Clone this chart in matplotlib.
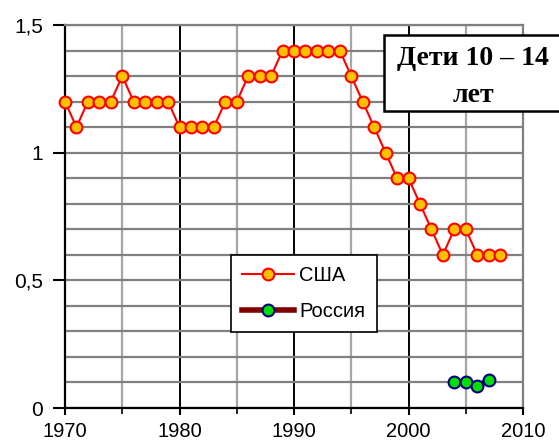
import matplotlib
matplotlib.use("Agg")
import matplotlib.pyplot as plt
from matplotlib.patches import Rectangle
from matplotlib.ticker import FuncFormatter, MultipleLocator

usa_years = list(range(1970, 2009))
usa_values = [1.2, 1.1, 1.2, 1.2, 1.2, 1.3, 1.2, 1.2, 1.2, 1.2,
              1.1, 1.1, 1.1, 1.1, 1.2, 1.2, 1.3, 1.3, 1.3, 1.4,
              1.4, 1.4, 1.4, 1.4, 1.4, 1.3, 1.2, 1.1, 1.0, 0.9,
              0.9, 0.8, 0.7, 0.6, 0.7, 0.7, 0.6, 0.6, 0.6]
rus_years = [2004, 2005, 2006, 2007]
rus_values = [0.1, 0.1, 0.085, 0.11]
series_labels = ["США", "Россия"]
title_lines = ["Дети 10 – 14", "лет"]
x_ticks = [1970, 1980, 1990, 2000, 2010]
y_ticks = [0, 0.5, 1, 1.5]

plt.rcParams['font.family'] = ['Liberation Sans', 'DejaVu Sans']

fig = plt.figure(figsize=(5.59, 4.43), dpi=100)
ax = fig.add_axes([65/559, 1-408/443, (523-65)/559, (408-25)/443])

ax.set_xlim(1970, 2010)
ax.set_ylim(0, 1.5)

# grid
ax.yaxis.set_minor_locator(MultipleLocator(0.1))
ax.xaxis.set_minor_locator(MultipleLocator(5))
ax.grid(which='minor', axis='y', color='#808080', lw=1.6, zorder=0)
ax.grid(which='major', axis='y', color='#808080', lw=1.6, zorder=0)
ax.grid(which='minor', axis='x', color='#a6a6a6', lw=1.6, zorder=0)
ax.grid(which='major', axis='x', color='black', lw=1.4, zorder=0)
ax.set_axisbelow(True)

ax.plot(usa_years, usa_values, color='red', lw=1.5, marker='o', ms=8.5,
        mfc='#FFC000', mec='red', mew=1.5, label=series_labels[0], zorder=3,
        clip_on=False)
ax.plot(rus_years, rus_values, color='#800000', lw=4, marker='o', ms=8.5,
        mfc='#00E000', mec='#000080', mew=1.5, label=series_labels[1], zorder=3,
        clip_on=False)

ax.set_xticks(x_ticks)
ax.set_yticks(y_ticks)
ax.yaxis.set_major_formatter(FuncFormatter(lambda v, p: ('%g' % v).replace('.', ',')))
ax.tick_params(axis='y', which='major', direction='out', length=9, width=1.5, pad=7, labelsize=15)
ax.tick_params(axis='y', which='minor', length=0)
ax.tick_params(axis='x', which='major', direction='out', length=5, width=1.5, pad=5, labelsize=14.5)
ax.tick_params(axis='x', which='minor', direction='out', length=4, width=1.2)

for s in ['left', 'bottom']:
    ax.spines[s].set_color('black')
    ax.spines[s].set_linewidth(1.6)
for s in ['top', 'right']:
    ax.spines[s].set_color('#808080')
    ax.spines[s].set_linewidth(1.6)

leg = ax.legend(loc='upper left', bbox_to_anchor=(231/559, 1-255/443),
                bbox_transform=fig.transFigure, fancybox=False, framealpha=1,
                edgecolor='black', fontsize=14.5, handlelength=2.6,
                labelspacing=0.85, borderpad=0.55, handletextpad=0.25,
                borderaxespad=0)
leg.get_frame().set_linewidth(1.2)
leg.set_zorder(5)

# title box
rect = Rectangle((384/559, 1-111/443), 0.4, (111-35)/443, transform=fig.transFigure,
                 facecolor='white', edgecolor='black', lw=1.8, zorder=6, clip_on=False)
fig.add_artist(rect)
fig.text(473/559, 1-65/443, title_lines[0], ha='center', va='baseline',
         family=['Liberation Serif'], fontweight='bold', fontsize=20, zorder=7)
fig.text(473/559, 1-101.5/443, title_lines[1], ha='center', va='baseline',
         family=['Liberation Serif'], fontweight='bold', fontsize=20, zorder=7)

fig.savefig('out.png', dpi=100)
